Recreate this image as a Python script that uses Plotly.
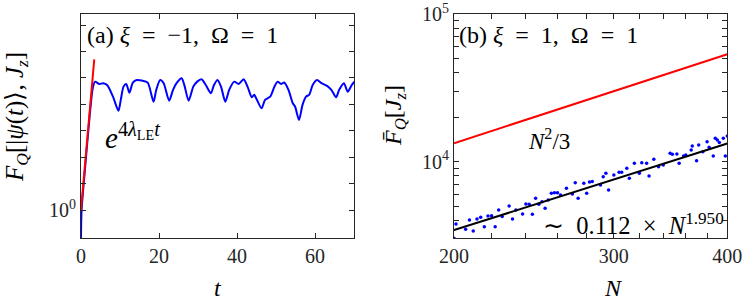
import plotly.graph_objects as go

# ---------------- Panel (a) data ----------------
t_blue = [0.0, 0.15, 1.0, 2.0, 3.0, 3.6, 4.7, 5.7, 6.7, 8.2, 9.6, 10.2, 10.9, 11.6, 12.4, 13.3,
          14.3, 15.6, 17.1, 18.6, 19.3, 20.3, 21.2, 22.6, 23.6, 24.5, 25.8, 26.5, 27.6, 28.8,
          29.8, 30.9, 32.0, 33.3, 34.1, 35.0, 35.9, 37.0, 38.0, 39.3, 40.4, 41.7, 42.7, 43.8,
          44.4, 45.1, 46.3, 47.2, 48.5, 49.6, 50.4, 51.3, 52.1, 53.2, 54.3, 54.9, 55.9, 56.8,
          57.7, 58.5, 59.4, 60.5, 61.7, 63.1, 64.2, 65.4, 66.2, 67.4, 68.4, 69.4, 70.1]
F_blue = [0.087, 1.0, 32, 1580, 39800, 72400, 58900, 63100, 53700, 19500, 5750, 14800, 46800,
          58900, 27500, 66100, 83200, 79400, 66100, 12600, 35500, 83200, 63100, 13800, 35500,
          63100, 97700, 53700, 13800, 46800, 72400, 89100, 53700, 26300, 53700, 83200, 46800,
          12600, 35500, 72400, 58900, 89100, 46800, 18600, 22900, 14800, 7080, 14800, 19500,
          46800, 72400, 58900, 67600, 35500, 11000, 8130, 2570, 9550, 19500, 22900, 53700,
          83200, 63100, 50100, 35500, 18600, 35500, 63100, 30200, 53700, 72400]
t_red = [0.0, 3.4]
F_red = [1.0, 501000]

# ---------------- Panel (b) data ----------------
N_dots = [200, 201, 206, 208, 210, 212, 214, 216, 218, 220, 222, 224, 226, 230, 232, 234, 238,
          240, 242, 244, 246, 248, 250, 252, 254, 256, 258, 260, 262, 266, 270, 272, 274, 278,
          280, 282, 284, 290, 292, 294, 296, 300, 304, 306, 310, 312, 316, 320, 322, 326, 328,
          332, 336, 340, 346, 348, 352, 354, 358, 360, 365, 366, 370, 372, 376, 380, 382, 386,
          388, 390, 392, 396, 398, 400]
F_dots = [3030, 3785, 3485, 4030, 3396, 4093, 4207, 3631, 4285, 4305, 3631, 4710, 4246, 5012,
          4093, 4710, 4426, 5176, 5152, 4406, 5650, 5152, 5358, 4831, 5508, 6109, 6166, 6166,
          5957, 6607, 6040, 7211, 5650, 7145, 6109, 7295, 7328, 6950, 7911, 8340, 6430, 8128,
          8474, 8474, 9020, 7727, 9750, 8340, 9840, 9750, 8000, 10380, 9250, 9500, 11400, 11220,
          11270, 9750, 10930, 11100, 12000, 12770, 10160, 12970, 11690, 13650, 12500, 10930,
          14390, 14030, 13460, 14390, 10930, 14930]
N_line = [200, 250, 300, 350, 400]
F_N2 = [n * n / 3 for n in N_line]
F_fit = [0.112 * n ** 1.950 for n in N_line]

# tick labels
xa_ticks = [0, 20, 40, 60]
ya_ticks = [1, 10, 100, 1e3, 1e4, 1e5, 1e6, 1e7]
ya_text = ["10<sup>0</sup>", "", "", "", "", "", "", ""]
xb_ticks = [200, 220, 240, 260, 280, 300, 320, 340, 360, 380, 400]
xb_text = ["200", "", "", "", "", "300", "", "", "", "", "400"]
yb_ticks = [3000, 4000, 5000, 6000, 7000, 8000, 9000, 1e4, 2e4, 3e4, 4e4, 5e4, 6e4, 7e4, 8e4, 9e4, 1e5]
yb_text = ["", "", "", "", "", "", "", "10<sup>4</sup>", "", "", "", "", "", "", "", "", "10<sup>5</sup>"]

W, H = 747, 304
FONT = "Liberation Serif"
AX = "#262626"
SP = "\u2002"

fig = go.Figure()
fig.add_trace(go.Scatter(x=t_blue, y=F_blue, mode="lines", line=dict(color="#0000ff", width=2, shape="spline", smoothing=0.7),
                         xaxis="x", yaxis="y", showlegend=False))
fig.add_trace(go.Scatter(x=t_red, y=F_red, mode="lines", line=dict(color="#ff0000", width=2),
                         xaxis="x", yaxis="y", showlegend=False))
fig.add_trace(go.Scatter(x=N_line, y=F_N2, mode="lines", line=dict(color="#ff0000", width=2),
                         xaxis="x2", yaxis="y2", showlegend=False))
fig.add_trace(go.Scatter(x=N_dots, y=F_dots, mode="markers", marker=dict(color="#0000ff", size=3.5),
                         xaxis="x2", yaxis="y2", showlegend=False))
fig.add_trace(go.Scatter(x=N_line, y=F_fit, mode="lines", line=dict(color="#000000", width=2),
                         xaxis="x2", yaxis="y2", showlegend=False))

common = dict(showline=True, linecolor=AX, linewidth=1, mirror="ticks", ticks="inside", ticklen=5,
              tickcolor=AX, showgrid=False, zeroline=False, automargin=False,
              tickfont=dict(family=FONT, size=20, color="#262626"))

fig.update_layout(
    width=W, height=H, margin=dict(l=0, r=0, t=0, b=0, autoexpand=False),
    paper_bgcolor="white", plot_bgcolor="white",
    xaxis=dict(domain=[81 / W, 354 / W], range=[0, 70], tickvals=xa_ticks, anchor="y", **common),
    yaxis=dict(domain=[1 - 238 / H, 1 - 14 / H], type="log", range=[-1.06, 7.42], tickvals=ya_ticks,
               ticktext=ya_text, anchor="x", **common),
    xaxis2=dict(domain=[454 / W, 727.3 / W], type="log", range=[2.30103, 2.60206], tickvals=xb_ticks,
                ticktext=xb_text, anchor="y2", **common),
    yaxis2=dict(domain=[1 - 238 / H, 1 - 14 / H], type="log", range=[3.483, 5.0], tickvals=yb_ticks,
                ticktext=yb_text, anchor="x2", **common),
)

def ann(text, x, y, size=20, angle=0, xanchor="center"):
    fig.add_annotation(text=text, x=x / W, y=1 - y / H, xref="paper", yref="paper", showarrow=False,
                       textangle=angle, xanchor=xanchor, yanchor="middle",
                       font=dict(family=FONT, size=size, color="black"))

ann(f"(a) <i>ξ</i>{SP}={SP}−1,{SP}Ω{SP}={SP}1", 85, 35, size=24, xanchor="left")
ann(f"(b) <i>ξ</i>{SP}={SP}1,{SP}Ω{SP}={SP}1", 457, 35, size=24, xanchor="left")
ann("<i>e</i><sup>4<i>λ</i><sub>LE</sub><i>t</i></sup>", 103, 136, size=29, xanchor="left")
ann("<i>N</i><sup>2</sup>/3", 526, 139, size=23, xanchor="left")
ann(f"∼{SP}0.112{SP}×{SP}<i>N</i><sup>1.950</sup>", 541, 224, size=24.5, xanchor="left")
ann("<i>F</i><sub><i>Q</i></sub>[|<i>ψ</i>(<i>t</i>)⟩,<i> J</i><sub><i>z</i></sub>]", 16, 117, size=25, angle=-90)
ann("<i>F̄</i><sub><i>Q</i></sub>[<i>J</i><sub><i>z</i></sub>]", 395, 116, size=24, angle=-90)
ann("<i>t</i>", 218, 288, size=24)
ann("<i>N</i>", 613, 288, size=24)

fig.write_html("out.html", config={"displayModeBar": False},
               post_script="document.body.style.margin='0px';document.body.style.overflow='hidden';")
